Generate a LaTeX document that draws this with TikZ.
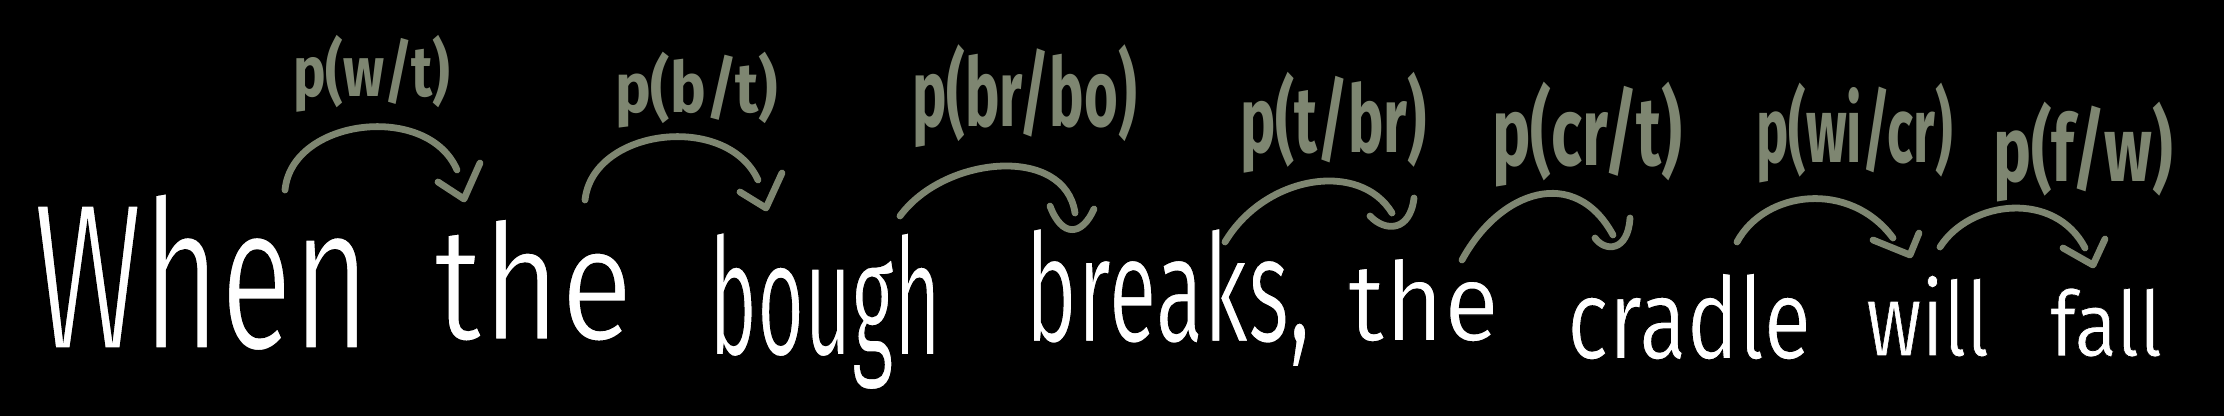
\documentclass[tikz,border=0pt]{standalone}
\usepackage{fontspec}
\usepackage{graphicx}
\newfontfamily\handfont{Fira Sans}
\newcommand{\labfont}{\handfont\bfseries}
% thin the glyphs: fill white, then stroke the outline in black
\newcommand{\thinglyphs}[1]{\special{pdf:literal direct 0 0 0 RG 2 Tr #1 w}}
\definecolor{sage}{RGB}{126,134,113}
\tikzset{
  word/.style={inner sep=0pt, outer sep=0pt, text=white, font=\handfont},
  lab/.style={inner sep=0pt, outer sep=0pt, text=sage, font=\labfont},
  arcline/.style={draw=sage, line width=3.4pt, line cap=round, line join=round},
}
% #1 style, #2 name, #3 left, #4 top, #5 right, #6 bottom (px), #7 text
\newcommand{\boxtext}[7]{%
  \node[#1, anchor=north west] (#2) at (#3,#4)
    {\resizebox*{\fpeval{(#5-#3)/2}pt}{\fpeval{(#6-#4)/2}pt}{#7}};}
\begin{document}
\begin{tikzpicture}[x=0.5pt, y=-0.5pt]
  \fill[black] (0,0) rectangle (2224,416);
  \useasboundingbox (0,0) rectangle (2224,416);

  % sentence
  \boxtext{word}{w1}{33}{192}{370}{352}{\thinglyphs{0.2}When}
  \boxtext{word}{w2}{434}{218}{633}{342}{\thinglyphs{0.18}the}
  \boxtext{word}{w3}{709}{232}{941}{390}{\thinglyphs{0.12}bough}
  \boxtext{word}{w4}{1025}{228}{1310}{367}{\thinglyphs{0.12}breaks,}
  \boxtext{word}{w5}{1348}{258}{1499}{342}{\thinglyphs{0.12}the}
  \boxtext{word}{w6}{1567}{273}{1811}{360}{\thinglyphs{0.1}cradle}
  \boxtext{word}{w7}{1866}{275}{1989}{357}{\thinglyphs{0.08}will}
  \boxtext{word}{w8}{2050}{288}{2162}{357}{\thinglyphs{0.08}fall}

  % labels
  \boxtext{lab}{l1}{293}{35}{450}{112}{p(w/t)}
  \boxtext{lab}{l2}{615}{52}{778}{128}{p(b/t)}
  \boxtext{lab}{l3}{912}{45}{1137}{148}{p(br/bo)}
  \boxtext{lab}{l4}{1240}{72}{1427}{173}{p(t/br)}
  \boxtext{lab}{l5}{1492}{82}{1682}{187}{p(cr/t)}
  \boxtext{lab}{l6}{1756}{83}{1953}{183}{p(wi/cr)}
  \boxtext{lab}{l7}{1993}{102}{2173}{202}{p(f/w)}

  % arc end points
  \coordinate (a1s) at (285,190);  \coordinate (a1e) at (457,170);
  \coordinate (a2s) at (585,200);  \coordinate (a2e) at (758,180);
  \coordinate (a3s) at (900,216);  \coordinate (a3e) at (1075,213);
  \coordinate (a4s) at (1225,242); \coordinate (a4e) at (1392,213);
  \coordinate (a5s) at (1462,260); \coordinate (a5e) at (1613,235);
  \coordinate (a6s) at (1737,242); \coordinate (a6e) at (1893,238);
  \coordinate (a7s) at (1940,247); \coordinate (a7e) at (2085,248);

  % arcs
  \draw[arcline] (a1s) .. controls (292,118) and (428,102) .. (a1e);
  \draw[arcline] (a2s) .. controls (593,128) and (727,112) .. (a2e);
  \draw[arcline] (a3s) .. controls (945,155) and (1065,145) .. (a3e);
  \draw[arcline] (a4s) .. controls (1265,175) and (1360,160) .. (a4e);
  \draw[arcline] (a5s) .. controls (1500,190) and (1575,165) .. (a5e);
  \draw[arcline] (a6s) .. controls (1765,190) and (1850,180) .. (a6e);
  \draw[arcline] (a7s) .. controls (1970,200) and (2055,190) .. (a7e);

  % hand-drawn heads
  \draw[arcline] (438,182) -- (464,199) -- (480,163);
  \draw[arcline] (740,192) -- (766,208) -- (782,173);
  \draw[arcline] (1050,206) .. controls (1062,238) and (1082,236) .. (1094,209);
  \draw[arcline] (1370,216) .. controls (1385,232) and (1410,232) .. (1414,198);
  \draw[arcline] (1595,238) .. controls (1605,252) and (1628,252) .. (1630,218);
  \draw[arcline] (1873,240) -- (1910,255) -- (1919,233);
  \draw[arcline] (2063,248) -- (2093,265) -- (2105,239);
\end{tikzpicture}
\end{document}
